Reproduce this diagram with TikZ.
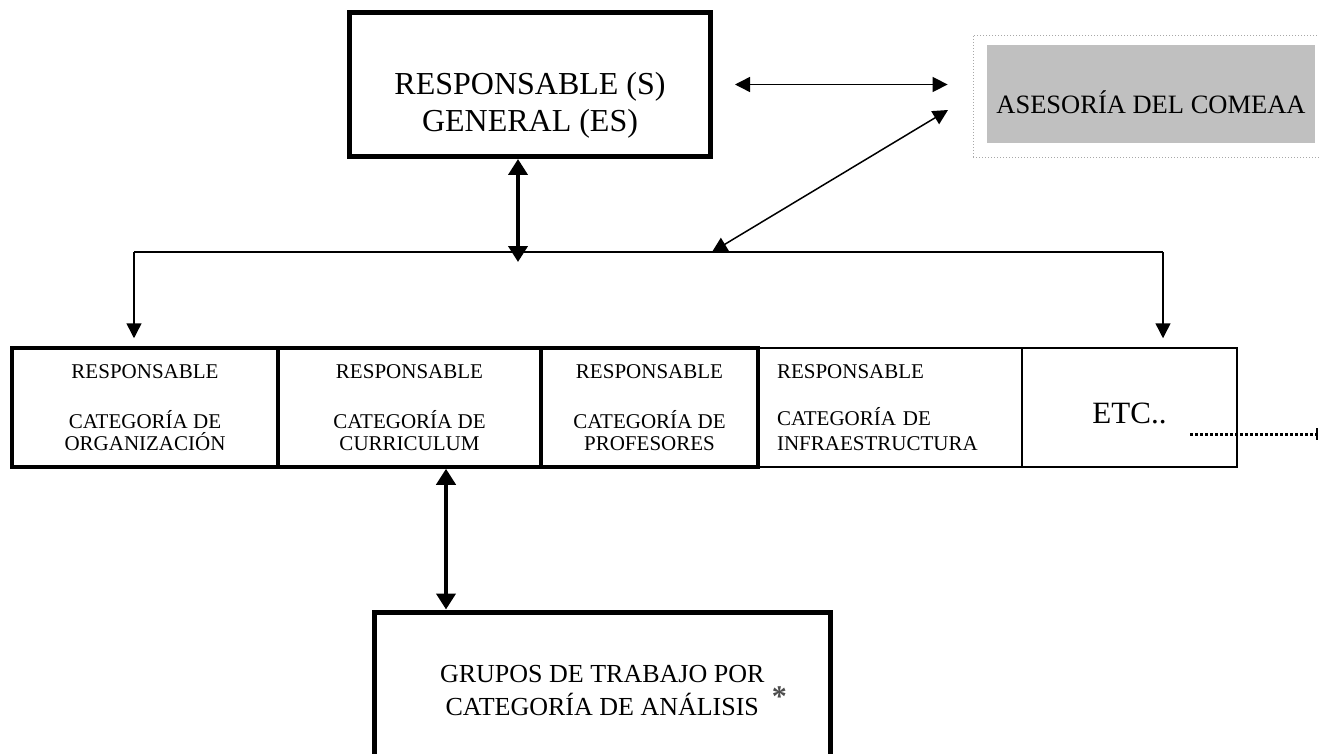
\documentclass[tikz,border=0pt]{standalone}
\usepackage{xcolor}
\usepackage{fontspec}
\setmainfont{Liberation Serif}
\usepackage{tikz}
\usetikzlibrary{arrows.meta,calc}

\definecolor{asesgray}{HTML}{C0C0C0}
\definecolor{framegray}{HTML}{A8A8A8}

\begin{document}
\begin{tikzpicture}[x=1pt,y=-1pt,
    bigbox/.style={draw,line width=5pt,inner sep=0pt},
    catbox/.style={draw,line width=3.5pt,minimum height=119pt,inner sep=0pt,align=center,font=\fontsize{21}{22}\selectfont},
    catthin/.style={catbox,line width=1.5pt},
    thinarrow/.style={line width=1.5pt,>={Triangle[length=15pt,width=15pt]},<->},
    downarrow/.style={line width=1.5pt,>={Triangle[length=15pt,width=15pt]},->},
    bigarrow/.style={line width=4.5pt,>={Triangle[length=16pt,width=19pt]},<->}]
      \path[use as bounding box] (0,0) rectangle (1319,754); % pixel grid of the reference

      \node[bigbox,minimum width=361pt,minimum height=144pt] (gen) at (530,84.5) {};
      \node[align=center,inner sep=0pt,font=\fontsize{32}{37}\selectfont] (gentxt) at (530,105) {RESPONSABLE (S)\\GENERAL (ES)};

      \node[draw=framegray,line width=0.8pt,dash pattern=on 1pt off 2pt,minimum width=357pt,minimum height=122pt] (asesframe) at (1151.5,96) {};
      \node[fill=asesgray,minimum width=328pt,minimum height=98pt,text height=40pt,text depth=0pt,font=\fontsize{26.5}{30}\selectfont] (ases) at (1151,94) {ASESORÍA DEL COMEAA};

      \node[catthin,minimum width=264pt,text width=226pt,inner xsep=19pt,align=left,font=\fontsize{21}{25}\selectfont] (infra) at (890,407.5) {RESPONSABLE\\[22pt]CATEGORÍA DE\\INFRAESTRUCTURA};
      \node[catthin,minimum width=215pt,text height=31pt,text depth=0pt,font=\fontsize{31}{36}\selectfont] (etc) at (1129.5,407.5) {ETC..};
      \node[catbox,minimum width=266pt] (org) at (145,407.5) {RESPONSABLE\\[28pt]CATEGORÍA DE\\ORGANIZACIÓN};
      \node[catbox,minimum width=263pt] (cur) at (409.5,407.5) {RESPONSABLE\\[28pt]CATEGORÍA DE\\CURRICULUM};
      \node[catbox,minimum width=217pt] (prof) at (649.5,407.5) {RESPONSABLE\\[28pt]CATEGORÍA DE\\PROFESORES};

      \node[bigbox,minimum width=455.5pt,minimum height=158pt,align=center,font=\fontsize{26}{33}\selectfont] (grupos) at (602.25,691) {GRUPOS DE TRABAJO POR\\CATEGORÍA DE ANÁLISIS\rlap{\hspace{13pt}\raisebox{9pt}{\fontsize{30}{30}\selectfont\color{black!70}\textbf{*}}}};

      \coordinate (busL) at (134,252);
      \coordinate (busR) at (1163,252);
      \coordinate (busA) at (712,252);
      \coordinate (asesB) at (948,110);
      \coordinate (hub) at (518,262);
      \coordinate (cg) at (446,540);
      \coordinate (etcstart) at (1190,434);
      \coordinate (etcend) at (1317,434);

      \draw[line width=1.5pt] (busL) -- (busR);
      \draw[downarrow,shorten >=8pt] (busL) -- (busL |- org.north);
      \draw[downarrow,shorten >=9pt] (busR) -- (busR |- etc.north);
      \draw[bigarrow] (hub |- gen.south) -- (hub);
      \draw[thinarrow,shorten <=22pt,shorten >=25pt] (gen.east) -- (gen.east -| asesframe.west);
      \draw[thinarrow] (busA) -- (asesB);
      \draw[bigarrow] (cur.south -| cg) -- (grupos.north -| cg);

      \draw[line width=3pt,dash pattern=on 3pt off 2pt] (etcstart) -- (etcend);
      \draw[line width=2pt] ([yshift=6pt]etcend) -- ([yshift=-6pt]etcend);
    \end{tikzpicture}
\end{document}
